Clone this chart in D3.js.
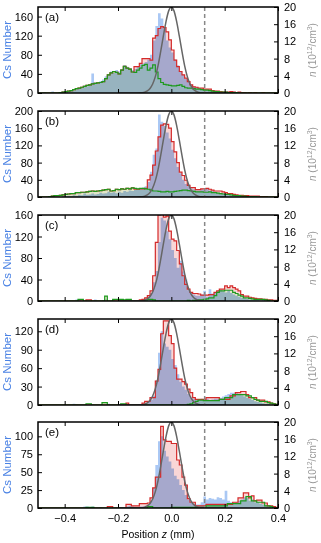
<!DOCTYPE html>
<html>
<head>
<meta charset="utf-8">
<script src="https://cdn.jsdelivr.net/npm/d3@7"></script>
<style>
body { margin: 0; background: #fff; }
svg { display: block; font-family: "Liberation Sans", Arial, sans-serif; }
</style>
</head>
<body>
<svg id="chart" width="321" height="543"></svg>
<script>
// histogram bins: 0.01 mm wide, first bin starts at -0.5 mm (90 bins)
var binStart = -0.5, binWidth = 0.01;

var panelLabels = ["(a)", "(b)", "(c)", "(d)", "(e)"];
var csMax = [180, 200, 160, 140, 120];
var csTicks = [
  [0, 40, 80, 120, 160],
  [0, 40, 80, 120, 160, 200],
  [0, 40, 80, 120, 160],
  [0, 30, 60, 90, 120],
  [0, 25, 50, 75, 100]
];
var nTicks = [0, 4, 8, 12, 16, 20];
var zTicks = [-0.4, -0.2, 0.0, 0.2, 0.4];
var dashZ = 0.125;

// Cs number histograms (light blue)
var blueA = [0,0,2,0,0,3,0,0,2,3, 4,3,6,5,8,10,12,15,14,18, 41,22,20,25,28,35,40,45,42,48,
  45,50,58,55,52,48,50,55,60,62, 65,70,80,110,140,167,156,135,110,95, 85,70,58,45,38,30,24,18,14,12,
  10,9,8,7,6,5,5,4,4,3, 3,3,2,3,2,2,2,1,2,1, 2,1,1,2,1,1,2,1,1,1];
var blueB = [1,0,0,2,0,0,1,0,0,2, 2,3,2,4,3,5,4,8,5,6, 8,6,7,10,8,9,12,10,11,9,
  12,10,14,12,15,14,16,18,20,22, 25,35,59,98,113,192,175,165,150,136, 110,90,70,55,40,30,25,20,18,15,
  15,18,16,20,15,14,12,10,8,8, 6,5,4,4,3,3,2,2,2,1, 1,1,1,1,0,1,0,0,0,0];
var blueC = [0,0,0,0,0,0,0,0,1,0, 0,0,0,0,3,2,0,0,1,0, 0,3,0,0,2,3,0,0,2,0,
  1,0,2,0,1,0,2,0,2,3, 4,8,15,35,56,110,155,150,130,115, 95,80,62,75,55,40,20,16,12,10,
  10,12,19,8,22,14,16,18,20,18, 16,20,15,12,10,8,6,5,4,3, 3,2,2,1,2,1,1,0,1,0];
var blueD = [0,0,0,0,0,0,0,0,0,0, 0,0,0,2,1,0,0,0,0,0, 1,0,0,0,0,0,2,0,1,0,
  0,0,1,0,0,0,0,1,0,2, 3,5,8,15,40,85,120,100,95,90, 75,65,50,38,30,25,18,12,10,8,
  8,10,8,10,8,9,10,10,12,14, 16,18,20,20,19,18,16,14,12,10, 8,6,5,4,3,2,2,1,1,0];
var blueE = [0,0,0,0,0,0,0,0,0,0, 0,0,0,0,0,0,0,2,2,1, 2,0,0,1,0,0,0,0,0,1,
  0,0,0,2,3,2,1,0,2,2, 3,5,10,28,60,93,100,80,72,65, 55,45,40,32,25,18,12,8,6,5,
  5,8,16,12,14,13,12,15,14,12, 24,10,8,6,8,10,12,15,14,10, 12,8,8,6,5,4,3,2,1,1];

// red histograms (pink fill)
var redA = [0,0,0,0,0,0,0,0,1,2, 3,4,5,7,9,10,12,14,16,17, 19,20,21,22,24,30,38,42,45,43,
  40,48,56,52,50,44,55,55,62,72, 72,72,69,115,120,135,139,137,128,111, 90,69,55,45,38,31,24,17,13,12,
  10,10,8,8,8,5,4,4,3,2, 2,2,3,2,1,2,1,1,0,1, 0,1,0,0,1,0,0,0,0,0];
var redB = [0,0,0,0,1,2,3,3,4,5, 6,7,8,8,10,10,11,11,12,13, 14,13,14,15,16,17,18,14,15,18,
  17,19,18,20,19,21,18,18,19,19, 20,40,51,74,107,140,167,170,169,160, 129,105,80,58,50,39,27,22,22,17,
  17,19,19,20,18,16,14,14,14,12, 10,8,8,6,5,4,4,3,3,2, 2,2,2,1,1,1,0,0,0,0];
var redC = [0,0,0,0,0,0,0,0,0,0, 0,0,0,0,0,0,0,0,2,2, 0,0,0,0,0,0,0,0,0,0,
  0,0,0,0,0,0,0,0,2,3, 6,10,19,47,109,160,162,156,158,130, 115,112,94,69,47,31,22,16,14,14,
  13,11,11,11,12,12,16,19,22,22, 28,25,28,25,22,19,12,9,9,7, 6,5,4,4,3,3,2,2,1,1];
var redD = [0,0,0,0,0,0,0,0,0,0, 0,0,0,0,0,0,0,0,0,0, 0,0,0,0,0,0,0,0,0,0,
  0,0,0,3,0,0,0,0,0,3, 6,6,12,12,39,58,116,137,137,113, 100,60,42,42,38,34,26,20,12,9,
  9,9,9,12,12,12,12,12,9,9, 9,9,15,15,20,20,22,22,17,12, 12,12,8,8,8,5,5,3,2,1];
var redE = [0,0,0,0,0,0,0,0,0,0, 0,0,0,0,0,0,0,0,0,0, 0,0,0,0,0,0,2,2,0,0,
  0,0,0,5,5,3,3,3,6,6, 6,7,14,28,43,43,114,95,93,93, 90,90,67,60,43,32,13,8,8,3,
  3,3,3,5,5,5,5,5,5,5, 5,5,5,8,8,14,14,21,21,14, 17,10,11,11,7,7,3,3,2,1];

// green histograms
var greenA = [0,0,0,0,0,0,0,0,1,2, 3,4,5,7,9,10,12,14,16,17, 19,20,21,22,24,30,38,42,45,43,
  40,48,56,52,50,44,43,48,52,58, 60,48,52,59,44,30,22,18,17,16, 15,15,16,17,14,11,10,10,9,8,
  8,7,6,6,5,4,3,3,2,2, 2,1,1,1,1,0,0,0,0,0, 0,0,0,0,0,0,0,0,0,0];
var greenB = [0,0,0,0,1,2,3,3,4,5, 6,7,8,8,10,10,11,11,12,13, 14,13,14,15,16,17,18,14,15,18,
  17,19,18,20,19,21,20,19,20,20, 19,18,16,14,14,13,12,12,13,12, 12,13,14,15,16,16,15,14,13,12,
  12,12,11,11,12,10,10,9,8,7, 6,6,5,4,3,3,2,2,1,1, 1,1,0,0,0,0,0,0,0,0];
var greenC = [0,0,0,0,0,0,0,0,0,0, 0,0,0,0,0,3,3,0,0,0, 0,0,0,0,0,9,0,0,3,3,
  3,3,2,3,3,0,0,0,0,0, 2,3,3,2,0,0,0,0,0,0, 0,0,0,0,0,0,1,0,1,1,
  2,2,3,4,6,6,10,16,19,19, 20,20,20,16,14,11,9,6,6,5, 4,3,3,3,3,2,1,0,0,0];
var greenD = [0,0,0,0,0,0,0,0,0,0, 0,0,0,0,0,0,0,0,2,2, 0,0,0,0,4,4,0,0,0,0,
  0,2,2,0,0,0,0,0,0,0, 0,0,0,0,0,0,0,0,0,0, 0,0,0,0,0,0,1,2,4,6,
  8,8,7,7,7,7,7,7,9,9, 12,12,12,17,17,17,17,17,15,15, 12,9,8,6,6,6,4,3,2,1];
var greenE = [0,0,0,0,0,0,0,0,0,0, 0,0,0,0,0,0,0,0,1,1, 1,0,0,0,0,0,0,0,0,0,
  0,0,0,0,0,0,0,0,0,0, 0,2,2,0,0,0,0,0,0,0, 1,1,1,1,1,1,1,1,1,1,
  1,1,1,3,3,3,3,3,3,3, 3,6,6,6,6,6,10,10,16,16, 10,10,8,8,8,3,3,2,0,0];

// density model curve n(z) (10^12/cm^3), read at 0.01 mm steps
var gaussZ = [-0.2,-0.15,-0.13,-0.12,-0.11,-0.10,-0.09,-0.08,-0.07,-0.06,-0.05,-0.04,-0.03,-0.02,-0.01,0,
  0.01,0.02,0.03,0.04,0.05,0.06,0.07,0.08,0.09,0.10,0.11,0.12,0.13,0.15,0.2];
var gaussN = [0,0,0.01,0.03,0.08,0.2,0.49,1.06,2.1,3.8,6.3,9.6,13.2,16.6,19.1,20,
  19.1,16.6,13.2,9.6,6.3,3.8,2.1,1.06,0.49,0.2,0.08,0.03,0.01,0,0];

var blues = [blueA, blueB, blueC, blueD, blueE];
var reds = [redA, redB, redC, redD, redE];
var greens = [greenA, greenB, greenC, greenD, greenE];

var svg = d3.select("#chart");
var left = 38, right = 278, panelH = 86;
var panelTops = [7, 111, 215, 319, 422];

var x = d3.scaleLinear().domain([-0.5, 0.4]).range([left, right]);
var fmt = d3.format(".1f");

function stepPoints(vals, base) {
  var pts = vals.map(function (v, k) {
    return [binStart + k * binWidth, v, base ? Math.min(base[k], v) : 0];
  });
  var last = pts[pts.length - 1];
  pts.push([binStart + vals.length * binWidth, last[1], last[2]]);
  return pts;
}

panelTops.forEach(function (top, p) {
  var y = d3.scaleLinear().domain([0, csMax[p]]).range([top + panelH, top]);
  var yn = d3.scaleLinear().domain([0, 20]).range([top + panelH, top]);
  var g = svg.append("g");

  g.append("clipPath").attr("id", "clip" + p)
    .append("rect").attr("x", left).attr("y", top).attr("width", right - left).attr("height", panelH);

  var area = d3.area()
    .x(function (d) { return x(d[0]); })
    .y0(function (d) { return y(d[2]); })
    .y1(function (d) { return y(d[1]); })
    .curve(d3.curveStepAfter);
  var line = d3.line()
    .x(function (d) { return x(d[0]); })
    .y(function (d) { return y(d[1]); })
    .curve(d3.curveStepAfter);

  var plot = g.append("g").attr("clip-path", "url(#clip" + p + ")");

  plot.append("path").datum(stepPoints(blues[p]))
    .attr("d", area).attr("fill", "#aac8f4")
    .style("mix-blend-mode", "multiply");
  // pink only shows where the red histogram rises above the green one
  plot.append("path").datum(stepPoints(reds[p], greens[p]))
    .attr("d", area).attr("fill", "#f9d6d6")
    .style("mix-blend-mode", "multiply");
  plot.append("path").datum(stepPoints(greens[p]))
    .attr("d", area).attr("fill", "#e2e5c8")
    .style("mix-blend-mode", "multiply");

  plot.append("path").datum(stepPoints(reds[p]))
    .attr("d", line).attr("fill", "none").attr("stroke", "#d42a2a").attr("stroke-width", 1.2);
  plot.append("path").datum(stepPoints(greens[p]))
    .attr("d", line).attr("fill", "none").attr("stroke", "#1e9a1e").attr("stroke-width", 1.2);

  var gl = d3.line()
    .x(function (d, i) { return x(gaussZ[i]); })
    .y(function (d) { return yn(d); })
    .curve(d3.curveMonotoneX);
  plot.append("path").datum(gaussN)
    .attr("d", gl).attr("fill", "none").attr("stroke", "#666").attr("stroke-width", 1.5);

  g.append("line")
    .attr("x1", x(dashZ)).attr("x2", x(dashZ))
    .attr("y1", top).attr("y2", top + panelH)
    .attr("stroke", "#888").attr("stroke-width", 1.5).attr("stroke-dasharray", "4,3");

  // axes with inward ticks
  var axL = d3.axisLeft(y).tickValues(csTicks[p]).tickSizeInner(-4).tickSizeOuter(0).tickPadding(5);
  var axR = d3.axisRight(yn).tickValues(nTicks).tickSizeInner(-4).tickSizeOuter(0).tickPadding(6);
  var axB = d3.axisBottom(x).tickValues(zTicks).tickSizeInner(-4).tickSizeOuter(0).tickPadding(6)
    .tickFormat(function (t) { return fmt(t).replace("-", "\u2212"); });
  var axT = d3.axisTop(x).tickValues(zTicks).tickSizeInner(-4).tickSizeOuter(0).tickFormat("");

  g.append("g").attr("transform", "translate(" + left + ",0)").call(axL);
  g.append("g").attr("transform", "translate(" + right + ",0)").call(axR);
  g.append("g").attr("transform", "translate(0," + top + ")").call(axT);
  if (p == 4) {
    g.append("g").attr("transform", "translate(0," + (top + panelH) + ")").call(axB);
  } else {
    g.append("g").attr("transform", "translate(0," + (top + panelH) + ")").call(axB.tickFormat(""));
  }
  g.selectAll(".domain").remove();
  g.selectAll(".tick line").attr("stroke", "#000").attr("stroke-width", 1);
  g.selectAll(".tick text").attr("font-size", 11).attr("fill", "#000")
    .attr("font-family", "Liberation Sans, Arial, sans-serif");

  g.append("rect")
    .attr("x", left).attr("y", top).attr("width", right - left).attr("height", panelH)
    .attr("fill", "none").attr("stroke", "#000").attr("stroke-width", 1.5);

  g.append("text").attr("x", left + 7).attr("y", top + 14)
    .attr("font-size", 11.5).text(panelLabels[p]);

  var cy = top + panelH / 2;
  g.append("text")
    .attr("transform", "translate(10.5," + cy + ") rotate(-90)")
    .attr("text-anchor", "middle").attr("font-size", 11.5).attr("fill", "#4a82e4")
    .text("Cs Number");

  var nl = g.append("text")
    .attr("transform", "translate(316," + cy + ") rotate(-90)")
    .attr("text-anchor", "middle").attr("font-size", 10).attr("fill", "#999");
  nl.append("tspan").attr("font-style", "italic").text("n");
  nl.append("tspan").text(" (10");
  nl.append("tspan").attr("font-size", 7).attr("dy", -4).text("12");
  nl.append("tspan").attr("dy", 4).text("/cm");
  nl.append("tspan").attr("font-size", 7).attr("dy", -4).text("3");
  nl.append("tspan").attr("dy", 4).text(")");
});

var xl = svg.append("text").attr("x", x(-0.05)).attr("y", 538)
  .attr("text-anchor", "middle").attr("font-size", 10.5);
xl.append("tspan").text("Position ");
xl.append("tspan").attr("font-style", "italic").text("z");
xl.append("tspan").text(" (mm)");
</script>
</body>
</html>
